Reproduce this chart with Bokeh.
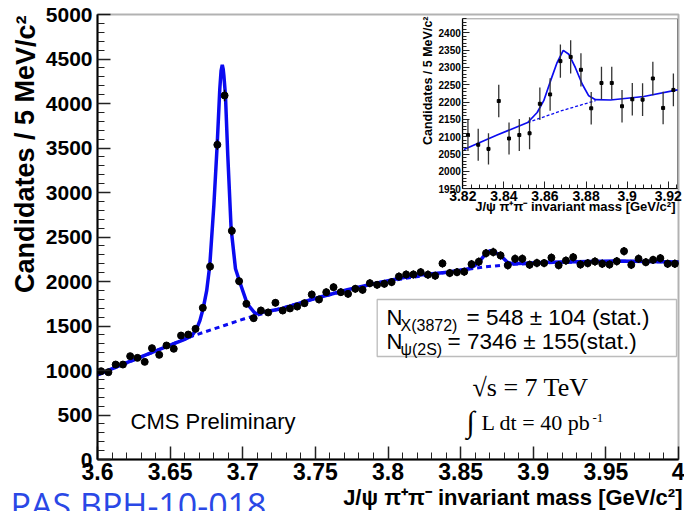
from bokeh.plotting import figure
from bokeh.models import (Label, BoxAnnotation, SingleIntervalTicker, NumeralTickFormatter,
                          ColumnDataSource, Range1d, LinearAxis)
from bokeh.embed import file_html
from bokeh.resources import INLINE

# ---------------- data ----------------
mass = [3.6025, 3.6075, 3.6125, 3.6175, 3.6225, 3.6275, 3.6325, 3.6375, 3.6425, 3.6475,
        3.6525, 3.6575, 3.6625, 3.6675, 3.6725, 3.6775, 3.6825, 3.6875, 3.6925, 3.6975,
        3.7025, 3.7075, 3.7125, 3.7175, 3.7225, 3.7275, 3.7325, 3.7375, 3.7425, 3.7475,
        3.7525, 3.7575, 3.7625, 3.7675, 3.7725, 3.7775, 3.7825, 3.7875, 3.7925, 3.7975,
        3.8025, 3.8075, 3.8125, 3.8175, 3.8225, 3.8275, 3.8325, 3.8375, 3.8425, 3.8475,
        3.8525, 3.8575, 3.8625, 3.8675, 3.8725, 3.8775, 3.8825, 3.8875, 3.8925, 3.8975,
        3.9025, 3.9075, 3.9125, 3.9175, 3.9225, 3.9275, 3.9325, 3.9375, 3.9425, 3.9475,
        3.9525, 3.9575, 3.9625, 3.9675, 3.9725, 3.9775, 3.9825, 3.9875, 3.9925, 3.9975]
counts = [992, 981, 1067, 1067, 1161, 1142, 1097, 1251, 1176, 1281,
          1244, 1393, 1404, 1468, 1704, 2168, 3536, 4090, 2569, 2004,
          1749, 1588, 1674, 1652, 1761, 1674, 1697, 1719, 1756, 1854,
          1798, 1880, 1936, 1880, 1861, 1918, 1906, 1981, 1963, 1974,
          1993, 2056, 2079, 2079, 2105, 2077, 2065, 2203, 2095, 2105,
          2110, 2195, 2222, 2318, 2330, 2293, 2182, 2255, 2255, 2188,
          2208, 2207, 2268, 2183, 2235, 2273, 2191, 2206, 2225, 2199,
          2191, 2228, 2341, 2187, 2255, 2217, 2243, 2262, 2199, 2199]
errors = [31, 31, 33, 33, 34, 34, 33, 35, 34, 36,
          35, 37, 37, 38, 41, 47, 59, 64, 51, 45,
          42, 40, 41, 41, 42, 41, 41, 41, 42, 43,
          42, 43, 44, 43, 43, 44, 44, 45, 44, 44,
          45, 45, 46, 46, 46, 46, 45, 47, 46, 46,
          46, 47, 47, 48, 48, 48, 47, 47, 47, 47,
          47, 47, 48, 47, 47, 48, 47, 47, 47, 47,
          47, 47, 48, 47, 47, 47, 47, 48, 47, 47]

# full fit (solid) and background (dashed), main panel
fit_mass = [3.600, 3.618, 3.641, 3.660, 3.665, 3.668, 3.6705, 3.6728, 3.6752, 3.6773,
            3.6801, 3.6824, 3.6842, 3.6851, 3.6859, 3.6865, 3.6870, 3.6881, 3.6897, 3.6920,
            3.6950, 3.6980, 3.7031, 3.7088, 3.7134, 3.7260, 3.7490, 3.7720, 3.7950, 3.8180,
            3.8410, 3.855, 3.8595, 3.8626, 3.8672, 3.8700, 3.8723, 3.8775, 3.8822, 3.8856,
            3.911, 3.957, 4.000]
fit_val = [950, 1075, 1225, 1350, 1390, 1460, 1560, 1700, 1900, 2180,
           2854, 3536, 4165, 4371, 4435, 4390, 4315, 4090, 3416, 2592,
           2143, 1992, 1749, 1637, 1655, 1690, 1806, 1907, 1993, 2067,
           2105, 2140, 2175, 2217, 2311, 2345, 2341, 2292, 2217, 2199,
           2215, 2230, 2220]
bkg_mass = [3.600, 3.641, 3.6643, 3.6735, 3.6873, 3.7012, 3.7139, 3.7490, 3.7950, 3.8410,
            3.8649, 3.8833, 3.911, 3.957, 4.000]
bkg_val = [950, 1225, 1382, 1431, 1506, 1581, 1640, 1806, 1993, 2105,
           2161, 2191, 2212, 2228, 2220]

# inset panel: same data, zoomed around the X(3872)
inset_first, inset_last = 44, 65
inset_fit_mass = [3.8205, 3.8367, 3.8516, 3.8562, 3.8594, 3.8627, 3.8659, 3.8689, 3.8716, 3.8748,
                  3.8781, 3.8813, 3.8846, 3.8919, 3.9081, 3.9245]
inset_fit_val = [2063, 2105, 2141, 2170, 2204, 2261, 2314, 2349, 2338, 2299,
                 2252, 2218, 2207, 2206, 2216, 2235]
inset_bkg_mass = [3.8516, 3.8675, 3.8846]
inset_bkg_val = [2141, 2174, 2204]

FONT = "Liberation Sans"
BLUE = "#0b0bf0"

# ---------------- geometry (pixels of the 684x511 canvas) ----------------
W, H = 684, 511
FL, FR, FT, FB = 97, 678, 14, 459            # main frame
XMIN, XMAX, YMIN, YMAX = 3.6, 4.0, 0, 5000
sx = (XMAX - XMIN) / (FR - FL)
sy = (YMAX - YMIN) / (FB - FT)
def mx(px): return XMIN + (px - FL) * sx
def my(py): return YMIN + (FB - py) * sy

IL, IR, IT, IB = 462.3, 677, 18.3, 188.3     # inset frame
IXMIN, IXMAX, IYMIN, IYMAX = 3.82, 3.9245, 1950, 2440
isx = (IXMAX - IXMIN) / (IR - IL)
isy = (IYMAX - IYMIN) / (IB - IT)
def ix(px): return IXMIN + (px - IL) * isx
def iy(py): return IYMIN + (IB - py) * isy

p = figure(width=W, height=H,
           x_range=Range1d(mx(0), mx(W)), y_range=Range1d(my(H), my(0)),
           min_border_left=0, min_border_right=0, min_border_top=0, min_border_bottom=0,
           output_backend="svg", toolbar_location=None)
p.extra_x_ranges = {"ix": Range1d(ix(0), ix(W))}
p.extra_y_ranges = {"iy": Range1d(iy(H), iy(0))}
p.xgrid.visible = False
p.ygrid.visible = False
p.outline_line_color = None
p.background_fill_color = "white"
p.border_fill_color = "white"

def style_axis(ax, tick_in, minor_in, size, lw):
    ax.axis_line_width = lw
    ax.axis_line_color = "black"
    ax.major_tick_in = tick_in
    ax.major_tick_out = 0
    ax.minor_tick_in = minor_in
    ax.minor_tick_out = 0
    ax.major_tick_line_color = "#222222"
    ax.minor_tick_line_color = "#222222"
    ax.major_label_text_font = FONT
    ax.major_label_text_font_style = "bold"
    ax.major_label_text_color = "black"
    ax.major_label_text_font_size = size

xa = p.xaxis[0]
xa.fixed_location = YMIN
xa.bounds = (XMIN, XMAX)
xa.ticker = SingleIntervalTicker(interval=0.05, num_minor_ticks=5)
xa.formatter = NumeralTickFormatter(format="0.[00]")
style_axis(xa, 13, 7, "23px", 2)
xa.major_tick_line_width = 1.5
xa.major_label_standoff = 3

ya = p.yaxis[0]
ya.fixed_location = XMIN
ya.bounds = (YMIN, YMAX)
ya.ticker = SingleIntervalTicker(interval=500, num_minor_ticks=5)
style_axis(ya, 13, 7, "21px", 2)
ya.major_tick_line_width = 1.5
ya.major_label_standoff = 5

# ---- main panel marks ----
src = ColumnDataSource(dict(x=mass, y=counts,
                            lo=[c - e for c, e in zip(counts, errors)],
                            hi=[c + e for c, e in zip(counts, errors)]))
p.line(bkg_mass, bkg_val, line_color=BLUE, line_width=3, line_dash="5 4")
p.line(fit_mass, fit_val, line_color=BLUE, line_width=3.5)
p.segment(x0="x", y0="lo", x1="x", y1="hi", source=src, line_color="black", line_width=1.5)
p.scatter("x", "y", source=src, size=7, color="black")

# ---- inset (drawn in its own ranges, on a white pad) ----
p.quad(left=ix(412), right=ix(W), bottom=iy(220), top=iy(15),
       x_range_name="ix", y_range_name="iy", fill_color="white", line_color=None)
p.quad(left=IXMIN, right=IXMAX, bottom=IYMIN, top=IYMAX,
       x_range_name="ix", y_range_name="iy", fill_color=None, line_color="#9a9a9a", line_width=1)

isrc = ColumnDataSource(dict(x=mass[inset_first:inset_last], y=counts[inset_first:inset_last],
                             lo=src.data["lo"][inset_first:inset_last],
                             hi=src.data["hi"][inset_first:inset_last]))
p.line(inset_bkg_mass, inset_bkg_val, x_range_name="ix", y_range_name="iy",
       line_color=BLUE, line_width=1.3, line_dash="3 2")
p.line(inset_fit_mass, inset_fit_val, x_range_name="ix", y_range_name="iy",
       line_color=BLUE, line_width=1.7)
p.segment(x0="x", y0="lo", x1="x", y1="hi", source=isrc, x_range_name="ix", y_range_name="iy",
          line_color="#333333", line_width=1.3)
p.scatter("x", "y", source=isrc, x_range_name="ix", y_range_name="iy",
          marker="square", size=3, color="black")

ixa = LinearAxis(x_range_name="ix", y_range_name="iy", fixed_location=IYMIN, bounds=(IXMIN, IXMAX),
                 ticker=SingleIntervalTicker(interval=0.02, num_minor_ticks=5),
                 formatter=NumeralTickFormatter(format="0.[00]"))
style_axis(ixa, 7, 4, "14px", 1.2)
ixa.major_label_standoff = 2
p.add_layout(ixa, "below")
iya = LinearAxis(x_range_name="ix", y_range_name="iy", fixed_location=IXMIN, bounds=(IYMIN, IYMAX),
                 ticker=SingleIntervalTicker(interval=50, num_minor_ticks=5))
style_axis(iya, 7, 4, "10px", 1.2)
iya.major_label_standoff = 2
p.add_layout(iya, "left")

# ---- frame of the main panel and the result box ----
p.add_layout(BoxAnnotation(left=XMIN, right=XMAX, bottom=YMIN, top=YMAX, fill_alpha=0,
                           line_color="black", line_width=2))
p.add_layout(BoxAnnotation(left=mx(376.7), right=mx(676), top=my(299), bottom=my(356),
                           fill_color="white", fill_alpha=1.0,
                           line_color="#222222", line_width=1.3))

def lab(px, py, text, size, font=FONT, style="normal", align="left",
        baseline="alphabetic", angle=0.0, color="black"):
    # py is the wanted baseline in canvas pixels; the renderer draws an
    # "alphabetic" label about 0.3 em lower, so compensate for it
    if baseline == "alphabetic":
        py = py - 0.3 * size
    p.add_layout(Label(x=mx(px), y=my(py), text=text, text_font=font,
                       text_font_size=f"{size}px", text_font_style=style,
                       text_align=align, text_baseline=baseline,
                       angle=angle, text_color=color))

lab(386, 324, "N", 22)
lab(400, 330, "X(3872)", 16)
lab(466, 324, "= 548 \u00b1 104 (stat.)", 22.5)
lab(386, 348, "N", 22)
lab(400, 354, "\u03c8(2S)", 16)
lab(447, 348, "= 7346 \u00b1 155(stat.)", 22.5)

lab(130, 428, "CMS Preliminary", 22)

lab(472, 395, "\u221as = 7 TeV", 26, font="Liberation Serif")
lab(466, 430, "\u222b", 30, font="Liberation Serif")
lab(481, 429, "L dt = 40 pb", 22, font="Liberation Serif")
lab(592, 421, "-1", 13, font="Liberation Serif")

# axis titles and note
lab(682, 504, "J/\u03c8 \u03c0\u207a\u03c0\u207b invariant mass [GeV/c\u00b2]", 22,
    style="bold", align="right")
lab(25, 15, "Candidates / 5 MeV/c\u00b2", 27, style="bold", align="right",
    baseline="middle", angle=1.5707963)
lab(10, 515, "PAS BPH-10-018", 34, font="Open Sans", color="#2a48e6")

lab(427.5, 16, "Candidates / 5 MeV/c\u00b2", 12.5, style="bold", align="right",
    baseline="middle", angle=1.5707963)
lab(675, 210, "J/\u03c8 \u03c0\u207a\u03c0\u207b invariant mass [GeV/c\u00b2]", 13,
    style="bold", align="right")

open("out.html", "w").write(file_html(p, INLINE))
